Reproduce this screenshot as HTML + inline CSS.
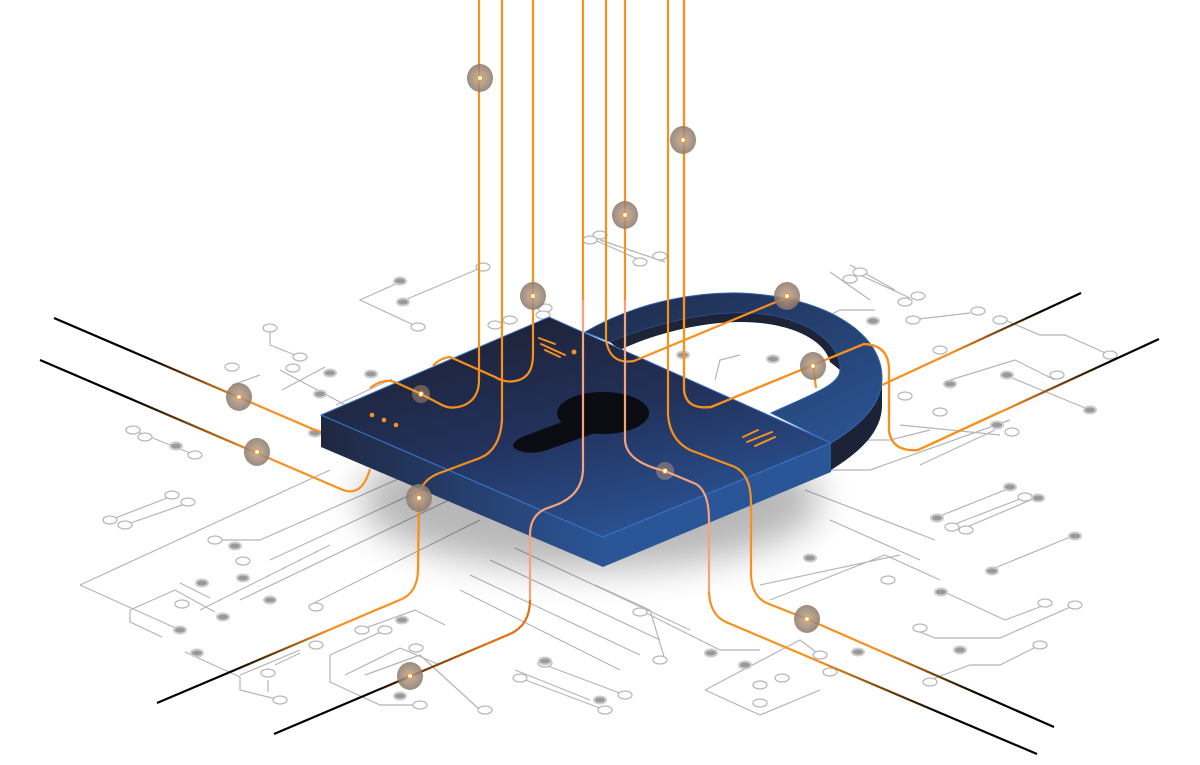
<!DOCTYPE html>
<html><head><meta charset="utf-8"><style>html,body{margin:0;padding:0;background:#fff}svg{display:block}</style></head>
<body>
<svg width="1200" height="765" viewBox="0 0 1200 765" xmlns="http://www.w3.org/2000/svg">
<defs>
<linearGradient id="top" x1="0.2" y1="0.1" x2="0.7" y2="1"><stop offset="0" stop-color="#1e2337"/><stop offset="0.45" stop-color="#22315a"/><stop offset="1" stop-color="#2b5699"/></linearGradient>
<linearGradient id="lf" x1="0" y1="0" x2="1" y2="0"><stop offset="0" stop-color="#1f2740"/><stop offset="1" stop-color="#2b5596"/></linearGradient>
<linearGradient id="sh" x1="0" y1="0" x2="1" y2="1"><stop offset="0" stop-color="#1e2a48"/><stop offset="1" stop-color="#2b5596"/></linearGradient>
<linearGradient id="bl1" x1="54" y1="318" x2="322" y2="433" gradientUnits="userSpaceOnUse"><stop offset="0" stop-color="#000"/><stop offset="0.35" stop-color="#000"/><stop offset="0.7" stop-color="#f7901e"/></linearGradient>
<linearGradient id="bl2" x1="40" y1="360" x2="343" y2="490" gradientUnits="userSpaceOnUse"><stop offset="0" stop-color="#000"/><stop offset="0.3" stop-color="#000"/><stop offset="0.7" stop-color="#f7901e"/></linearGradient>
<linearGradient id="bl3" x1="157" y1="703" x2="402" y2="599" gradientUnits="userSpaceOnUse"><stop offset="0" stop-color="#000"/><stop offset="0.3" stop-color="#000"/><stop offset="0.7" stop-color="#f7901e"/></linearGradient>
<linearGradient id="bl4" x1="274" y1="734" x2="530" y2="610" gradientUnits="userSpaceOnUse"><stop offset="0" stop-color="#000"/><stop offset="0.35" stop-color="#000"/><stop offset="0.8" stop-color="#e07010"/></linearGradient>
<linearGradient id="bl5" x1="1037" y1="754" x2="726" y2="622" gradientUnits="userSpaceOnUse"><stop offset="0" stop-color="#000"/><stop offset="0.3" stop-color="#000"/><stop offset="0.7" stop-color="#f7901e"/></linearGradient>
<linearGradient id="bl6" x1="1054" y1="727" x2="807" y2="619" gradientUnits="userSpaceOnUse"><stop offset="0" stop-color="#000"/><stop offset="0.3" stop-color="#000"/><stop offset="0.7" stop-color="#f7901e"/></linearGradient>
<linearGradient id="bl7" x1="1159" y1="339" x2="918" y2="450" gradientUnits="userSpaceOnUse"><stop offset="0" stop-color="#000"/><stop offset="0.2" stop-color="#000"/><stop offset="0.65" stop-color="#f7901e"/></linearGradient>
<linearGradient id="bl8" x1="1081" y1="293" x2="882" y2="385" gradientUnits="userSpaceOnUse"><stop offset="0" stop-color="#000"/><stop offset="0.2" stop-color="#000"/><stop offset="0.65" stop-color="#f7901e"/></linearGradient>
<radialGradient id="dot" cx="0.5" cy="0.5" r="0.5"><stop offset="0" stop-color="#c8a58a"/><stop offset="0.6" stop-color="#a18a78"/><stop offset="1" stop-color="#8a7868"/></radialGradient>
<filter id="blur" x="-50%" y="-50%" width="200%" height="200%"><feGaussianBlur stdDeviation="18"/></filter>
</defs>

<g fill="none" stroke="#b5b5b5" stroke-width="1.2">
<path d="M400,282 L360,300 L418,327 M400,302 L483,267"/>
<path d="M270,328 L270,345 L300,357"/>
<path d="M325,367 L282,390 M392,379 L336,405"/>
<path d="M280,370 L420,445 M232,385 L260,375"/>
<path d="M133,430 L195,455"/>
<path d="M110,520 L175,495 M125,525 L188,503"/>
<path d="M80,585 L330,470 M80,585 L180,630"/>
<path d="M130,610 L175,590 L215,612 M130,610 L130,622 L162,637 M180,583 L210,598 M200,610 L330,545"/>
<path d="M215,540 L260,540 L430,465 M270,560 L460,472 M240,600 L470,490 M310,605 L480,520"/>
<path d="M185,652 L240,677 L240,690 L280,700 M240,675 L300,650"/>
<path d="M268,680 L268,692 M275,665 L300,653"/>
<path d="M330,655 L330,682 L380,705 L420,705 M330,655 L385,630 M345,675 L400,648 L440,665"/>
<path d="M360,630 L415,610 L445,625 M365,675 L420,655 L480,710"/>
<path d="M470,575 L640,655 M490,560 L660,640 M515,548 L690,630 M460,590 L620,670"/>
<path d="M515,670 L590,700 M520,678 L605,710 M545,665 L625,695"/>
<path d="M595,585 L650,610 L665,660 M640,610 L720,650 L760,650"/>
<path d="M705,690 L800,640 L820,655 M705,690 L760,715 L820,690"/>
<path d="M760,585 L900,555 M770,600 L885,555 L940,580"/>
<path d="M830,520 L920,560 M805,490 L935,540"/>
<path d="M935,518 L1010,488 M945,528 L1025,497 M960,530 L1040,496"/>
<path d="M990,570 L1075,535"/>
<path d="M940,590 L1005,620 L1045,605 M915,630 L935,638 L1000,638 L1075,605"/>
<path d="M930,680 L970,665 L1000,665 L1040,645"/>
<path d="M850,265 L895,290 M860,275 L910,298 M820,320 L840,310 L875,310"/>
<path d="M830,272 L870,300"/>
<path d="M910,320 L970,313 M1000,318 L1040,335 L1065,335 L1110,355"/>
<path d="M950,380 L1015,360 L1045,375 L1055,380 M1005,375 L1090,410"/>
<path d="M900,425 L1000,435 M920,465 L995,430 M840,440 L890,440 L930,430 M800,470 L870,470 L1010,420"/>
<path d="M600,240 L665,262 M590,238 L640,260"/>
<path d="M715,380 L720,360 L740,355"/>
</g>
<g fill="#fff" stroke="#b5b5b5" stroke-width="1.2">
<ellipse cx="483" cy="267" rx="7" ry="4"/><ellipse cx="418" cy="327" rx="7" ry="4"/><ellipse cx="270" cy="328" rx="7" ry="4"/><ellipse cx="300" cy="357" rx="7" ry="4"/>
<ellipse cx="232" cy="367" rx="7" ry="4"/><ellipse cx="293" cy="368" rx="7" ry="4"/><ellipse cx="133" cy="430" rx="7" ry="4"/><ellipse cx="145" cy="437" rx="7" ry="4"/><ellipse cx="195" cy="455" rx="7" ry="4"/>
<ellipse cx="110" cy="520" rx="7" ry="4"/><ellipse cx="125" cy="525" rx="7" ry="4"/><ellipse cx="172" cy="495" rx="7" ry="4"/><ellipse cx="188" cy="502" rx="7" ry="4"/>
<ellipse cx="215" cy="540" rx="7" ry="4"/><ellipse cx="243" cy="561" rx="7" ry="4"/><ellipse cx="182" cy="604" rx="7" ry="4"/><ellipse cx="316" cy="607" rx="7" ry="4"/>
<ellipse cx="280" cy="700" rx="7" ry="4"/><ellipse cx="268" cy="673" rx="7" ry="4"/><ellipse cx="316" cy="645" rx="7" ry="4"/><ellipse cx="385" cy="630" rx="7" ry="4"/><ellipse cx="362" cy="630" rx="7" ry="4"/><ellipse cx="420" cy="705" rx="7" ry="4"/><ellipse cx="485" cy="710" rx="7" ry="4"/><ellipse cx="416" cy="648" rx="7" ry="4"/>
<ellipse cx="520" cy="678" rx="7" ry="4"/><ellipse cx="545" cy="663" rx="7" ry="4"/><ellipse cx="625" cy="695" rx="7" ry="4"/><ellipse cx="605" cy="710" rx="7" ry="4"/>
<ellipse cx="660" cy="660" rx="7" ry="4"/><ellipse cx="640" cy="612" rx="7" ry="4"/><ellipse cx="760" cy="685" rx="7" ry="4"/><ellipse cx="820" cy="655" rx="7" ry="4"/><ellipse cx="782" cy="678" rx="7" ry="4"/><ellipse cx="760" cy="703" rx="7" ry="4"/><ellipse cx="830" cy="672" rx="7" ry="4"/>
<ellipse cx="888" cy="580" rx="7" ry="4"/><ellipse cx="920" cy="628" rx="7" ry="4"/><ellipse cx="1045" cy="603" rx="7" ry="4"/><ellipse cx="1075" cy="605" rx="7" ry="4"/><ellipse cx="930" cy="682" rx="7" ry="4"/><ellipse cx="1040" cy="645" rx="7" ry="4"/>
<ellipse cx="1025" cy="497" rx="7" ry="4"/><ellipse cx="952" cy="527" rx="7" ry="4"/><ellipse cx="966" cy="530" rx="7" ry="4"/>
<ellipse cx="860" cy="272" rx="7" ry="4"/><ellipse cx="850" cy="279" rx="7" ry="4"/><ellipse cx="905" cy="302" rx="7" ry="4"/><ellipse cx="918" cy="296" rx="7" ry="4"/><ellipse cx="913" cy="320" rx="7" ry="4"/><ellipse cx="978" cy="311" rx="7" ry="4"/><ellipse cx="1000" cy="320" rx="7" ry="4"/><ellipse cx="1110" cy="355" rx="7" ry="4"/>
<ellipse cx="1057" cy="375" rx="7" ry="4"/><ellipse cx="940" cy="412" rx="7" ry="4"/><ellipse cx="1012" cy="432" rx="7" ry="4"/><ellipse cx="905" cy="396" rx="7" ry="4"/><ellipse cx="940" cy="350" rx="7" ry="4"/>
<ellipse cx="600" cy="235" rx="7" ry="4"/><ellipse cx="590" cy="240" rx="7" ry="4"/><ellipse cx="640" cy="262" rx="7" ry="4"/><ellipse cx="660" cy="256" rx="7" ry="4"/>
<ellipse cx="495" cy="325" rx="7" ry="4"/><ellipse cx="510" cy="320" rx="7" ry="4"/><ellipse cx="545" cy="308" rx="7" ry="4"/><ellipse cx="543" cy="315" rx="7" ry="4"/>
</g>
<g fill="#999" stroke="#ccc" stroke-width="2">
<ellipse cx="400" cy="281" rx="6" ry="3.5"/><ellipse cx="403" cy="302" rx="6" ry="3.5"/><ellipse cx="330" cy="373" rx="6" ry="3.5"/><ellipse cx="320" cy="394" rx="6" ry="3.5"/><ellipse cx="371" cy="374" rx="6" ry="3.5"/><ellipse cx="315" cy="433" rx="6" ry="3.5"/><ellipse cx="176" cy="446" rx="6" ry="3.5"/>
<ellipse cx="235" cy="546" rx="6" ry="3.5"/><ellipse cx="243" cy="578" rx="6" ry="3.5"/><ellipse cx="202" cy="583" rx="6" ry="3.5"/><ellipse cx="223" cy="617" rx="6" ry="3.5"/><ellipse cx="270" cy="600" rx="6" ry="3.5"/><ellipse cx="180" cy="630" rx="6" ry="3.5"/><ellipse cx="197" cy="653" rx="6" ry="3.5"/><ellipse cx="402" cy="620" rx="6" ry="3.5"/><ellipse cx="400" cy="696" rx="6" ry="3.5"/>
<ellipse cx="711" cy="653" rx="6" ry="3.5"/><ellipse cx="745" cy="665" rx="6" ry="3.5"/><ellipse cx="810" cy="558" rx="6" ry="3.5"/><ellipse cx="941" cy="592" rx="6" ry="3.5"/><ellipse cx="992" cy="571" rx="6" ry="3.5"/><ellipse cx="1075" cy="536" rx="6" ry="3.5"/><ellipse cx="937" cy="518" rx="6" ry="3.5"/><ellipse cx="1010" cy="487" rx="6" ry="3.5"/><ellipse cx="1038" cy="498" rx="6" ry="3.5"/>
<ellipse cx="873" cy="321" rx="6" ry="3.5"/><ellipse cx="950" cy="384" rx="6" ry="3.5"/><ellipse cx="1007" cy="375" rx="6" ry="3.5"/><ellipse cx="1090" cy="410" rx="6" ry="3.5"/><ellipse cx="997" cy="425" rx="6" ry="3.5"/><ellipse cx="773" cy="359" rx="6" ry="3.5"/><ellipse cx="683" cy="355" rx="6" ry="3.5"/>
<ellipse cx="858" cy="652" rx="6" ry="3.5"/><ellipse cx="960" cy="650" rx="6" ry="3.5"/><ellipse cx="545" cy="661" rx="6" ry="3.5"/><ellipse cx="600" cy="700" rx="6" ry="3.5"/>
</g>

<ellipse cx="590" cy="500" rx="230" ry="70" fill="#000" opacity="0.28" filter="url(#blur)"/>

<g fill="none" stroke-width="2.2">
<path d="M54,318 L322,433" stroke="url(#bl1)"/>
<path d="M40,360 L343,490 Q362,497 370,469" stroke="url(#bl2)"/>
<path d="M882,385 L1081,293" stroke="url(#bl8)"/>
</g>

<!-- shackle -->
<path d="M882,378 L882,405 C882,432 860,452 831,470 L831,443 C860,425 882,405 882,378 Z" fill="#1d2336"/>
<path d="M840,370 C840,385 810,395 771,413 L785,420 C815,405 832,395 836,385 Z" fill="#1d2438"/>
<path d="M585,332 C640,300 700,292 740,293 C820,296 882,330 882,378 C882,405 860,425 831,443 L771,413 C810,395 840,385 840,370 C840,340 800,313 741,313 C690,313 640,330 610,342 Z" fill="url(#sh)" stroke="#3366b0" stroke-width="1"/>
<path d="M610,342 C640,330 690,313 741,313 C800,313 840,340 840,370 L830,362 C825,340 790,322 741,322 C690,322 640,340 620,350 Z" fill="#1d2438"/>

<!-- lock body -->
<path d="M321,415 L603,537 L603,567 L321,447 Z" fill="url(#lf)"/>
<path d="M603,537 L831,443 L831,472 L603,567 Z" fill="#2a5597"/>
<path d="M321,415 L549,317 L831,443 L603,537 Z" fill="url(#top)" stroke="#3a72c0" stroke-width="1"/>
<path d="M321,415 L603,537 L831,443" fill="none" stroke="#3a72c0" stroke-width="1"/>
<ellipse cx="603" cy="413" rx="46" ry="21" fill="#0a0c12"/>
<path d="M578,416 L522,437 Q505,446 520,451 Q532,455 547,450 L612,427 Z" fill="#0a0c12"/>
<g fill="#f7901e"><circle cx="372" cy="415" r="2.3"/><circle cx="384" cy="420" r="2.3"/><circle cx="396" cy="425" r="2.3"/><circle cx="574" cy="352" r="2.5"/></g>
<g stroke="#f7901e" stroke-width="2" stroke-linecap="round"><path d="M539,338 L555,344 M541,344 L565,355 M545,350 L560,357 M743,437 L758,430 M747,442 L772,432 M755,446 L775,437"/></g>

<g fill="none" stroke="#f7901e" stroke-width="2.2">
<path d="M479,0 L479,380 Q479,400 462,406 Q450,410 440,404 L421,394 L395,382 Q383,378 370,388"/>
<path d="M533,0 L533,355 Q533,378 515,381 Q505,383 495,377 L450,357 Q440,358 433,366"/>
<path d="M606,0 L606,340 Q610,365 634,361 L788,297 L800,301"/>
<path d="M684,0 L684,390 Q686,410 711,407 L813,365 L864,344 Q889,345 889,370 L889,431 Q892,452 918,450 L1159,339" stroke="url(#bl7)"/>
<path d="M684,0 L684,390 Q686,410 711,407 L813,365 L864,344 Q889,345 889,370 L889,431 Q892,452 918,450 L1000,412"/>
<path d="M813,365 L816,388"/>
<path d="M502,0 L502,420 Q500,450 480,458 L437,474 Q419,482 419,500 L418,571 Q417,592 402,599"/>
<path d="M402,599 L157,703" stroke="url(#bl3)"/>
<path d="M668,0 L668,415 Q670,440 690,450 L735,467 Q751,475 751,503 L751,575 Q752,598 769,604 L807,619"/>
<path d="M807,619 L1054,727" stroke="url(#bl6)"/>
<path d="M726,622 L1037,754" stroke="url(#bl5)"/>
<path d="M709,592 Q710,615 726,622"/>
<path d="M625,0 L625,300"/>
<path d="M583,0 L583,300"/>
</g>
<g fill="none" stroke-width="2.2">
<path d="M625,300 L625,440 Q626,462 665,471 L696,484 Q709,492 709,520 L709,592" stroke="#f5a37a"/>
<path d="M583,300 L583,470 Q582,495 556,505 L545,509 Q530,516 530,535 L530,600" stroke="#f5a37a"/>
<path d="M530,600 Q530,625 510,634 L274,734" stroke="url(#bl4)"/>
<path d="M419,500 L418,571" stroke="#f7901e"/>
</g>

<g>
<g fill="url(#dot)" opacity="0.85">
<ellipse cx="480" cy="78" rx="13" ry="14"/><ellipse cx="683" cy="140" rx="13" ry="14"/><ellipse cx="625" cy="215" rx="13" ry="14"/><ellipse cx="533" cy="296" rx="13" ry="14"/><ellipse cx="787" cy="296" rx="13" ry="14"/><ellipse cx="813" cy="366" rx="13" ry="14"/><ellipse cx="239" cy="397" rx="13" ry="14"/><ellipse cx="257" cy="452" rx="13" ry="14"/><ellipse cx="419" cy="498" rx="13" ry="14"/><ellipse cx="807" cy="619" rx="13" ry="14"/><ellipse cx="410" cy="676" rx="13" ry="14"/>
</g>
<g fill="#f7b98a" opacity="0.35"><circle cx="421" cy="394" r="9"/><circle cx="665" cy="471" r="9"/></g>
<g fill="#e8fff4" stroke="#f7901e" stroke-width="1">
<circle cx="480" cy="78" r="2.5"/><circle cx="683" cy="140" r="2.5"/><circle cx="625" cy="215" r="2.5"/><circle cx="533" cy="296" r="2.5"/><circle cx="787" cy="296" r="2.5"/><circle cx="813" cy="366" r="2.5"/><circle cx="239" cy="397" r="2.5"/><circle cx="257" cy="452" r="2.5"/><circle cx="419" cy="498" r="2.5"/><circle cx="807" cy="619" r="2.5"/><circle cx="410" cy="676" r="2.5"/><circle cx="421" cy="394" r="2.5"/><circle cx="665" cy="471" r="2.5"/>
</g>
</g>
</svg>
</body></html>
